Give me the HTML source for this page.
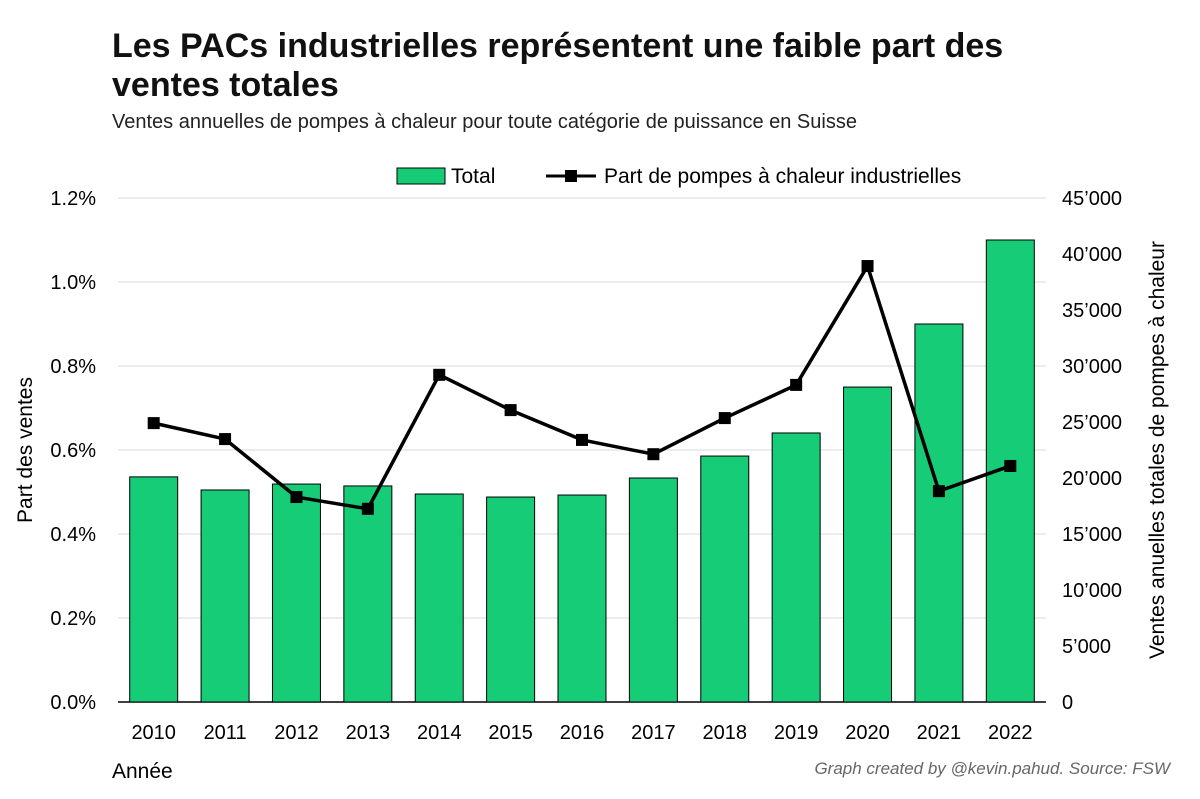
<!DOCTYPE html>
<html><head><meta charset="utf-8"><style>
body{margin:0;background:#fff;font-family:"Liberation Sans",sans-serif;}
svg{display:block}
</style></head><body>
<svg id="chart" width="1200" height="799">
<text x="112" y="57" font-size="34" font-weight="bold" fill="#111">Les PACs industrielles représentent une faible part des</text>
<text x="112" y="96" font-size="34" font-weight="bold" fill="#111">ventes totales</text>
<text x="112" y="128" font-size="20" fill="#222">Ventes annuelles de pompes à chaleur pour toute catégorie de puissance en Suisse</text>
<g id="grid"></g><g id="bars"></g><g id="line"></g><g id="axes"></g>
<g>
<rect x="397" y="168" width="48" height="16" fill="#16cc76" stroke="#000"/>
<text x="451" y="183" font-size="21">Total</text>
<line x1="546" y1="176" x2="596" y2="176" stroke="#000" stroke-width="3"/>
<rect x="565" y="170" width="12" height="12" fill="#000"/>
<text x="604" y="183" font-size="21">Part de pompes à chaleur industrielles</text>
</g>
<text transform="translate(32,450) rotate(-90)" text-anchor="middle" font-size="21">Part des ventes</text>
<text transform="translate(1164,450) rotate(-90)" text-anchor="middle" font-size="21">Ventes anuelles totales de pompes à chaleur</text>
<text x="112" y="778" font-size="21">Année</text>
<text x="1170" y="774" text-anchor="end" font-size="17" font-style="italic" fill="#666">Graph created by @kevin.pahud. Source: FSW</text>
</svg>
<script>
const years=[2010,2011,2012,2013,2014,2015,2016,2017,2018,2019,2020,2021,2022];
const totals=[20100,18930,19460,19290,18570,18300,18480,20000,21960,24020,28120,33750,41250];
const shares=[0.664,0.626,0.488,0.460,0.779,0.695,0.624,0.590,0.676,0.755,1.038,0.502,0.562];
const leftTicks=[0,0.2,0.4,0.6,0.8,1.0,1.2];
const rightTicks=[0,5000,10000,15000,20000,25000,30000,35000,40000,45000];
const NS="http://www.w3.org/2000/svg";
const x0=118,x1=1046,yB=702,yT=198;
const step=(x1-x0)/years.length;
const xc=i=>x0+step*(i+0.5);
const yL=v=>yB-(v/1.2)*(yB-yT);
const yR=v=>yB-(v/45000)*(yB-yT);
function mk(t,a,p){const e=document.createElementNS(NS,t);for(const k in a)e.setAttribute(k,a[k]);document.getElementById(p).appendChild(e);return e;}
leftTicks.forEach(v=>{
 const l=mk('line',{x1:x0,x2:x1,y1:yL(v),y2:yL(v),stroke:v===0?'#000':'#d9d9d9','stroke-width':v===0?1.5:1},'grid');
 
 
 const t=mk('text',{x:96,y:yL(v)+7,'text-anchor':'end','font-size':20},'axes');
 t.textContent=v.toFixed(1)+'%';
 
 
});
rightTicks.forEach(v=>{
 const t=mk('text',{x:1062,y:yR(v)+7,'font-size':20},'axes');
 t.textContent=v===0?'0':(Math.floor(v/1000)+'\u2019'+String(v%1000).padStart(3,'0'));
 
 
});
const bw=48;
years.forEach((y,i)=>{
 const b=mk('rect',{x:xc(i)-bw/2,y:yR(totals[i]),width:bw,height:yB-yR(totals[i]),fill:'#16cc76',stroke:'#000','stroke-width':1},'bars');
 
 
 const t=mk('text',{x:xc(i),y:739,'text-anchor':'middle','font-size':20},'axes');
 t.textContent=y;
 
 
});
const pl=mk('polyline',{points:shares.map((s,i)=>xc(i)+','+yL(s)).join(' '),fill:'none',stroke:'#000','stroke-width':3.5,'stroke-linejoin':'round'},'line');


shares.forEach((s,i)=>{
 const m=mk('rect',{x:xc(i)-6,y:yL(s)-6,width:12,height:12,fill:'#000'},'line');
 
 
});
</script>
</body></html>
